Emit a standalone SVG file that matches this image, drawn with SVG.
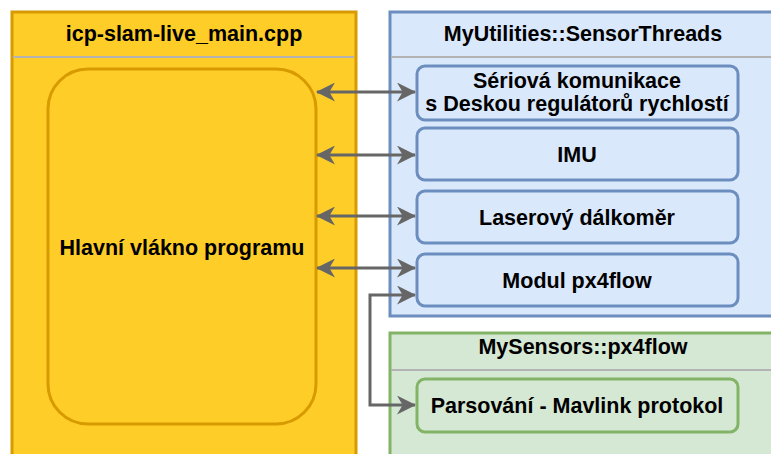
<svg xmlns="http://www.w3.org/2000/svg" width="771" height="454" viewBox="0 0 771 454">
<defs>
<style>
text{font-family:"Liberation Sans",Arial,sans-serif;font-weight:bold;font-size:21.5px;text-anchor:middle;fill:#000}
.y{fill:#ffcd28;stroke:#d79b00;stroke-width:3}
.b{fill:#dae8fc;stroke:#6c8ebf;stroke-width:3}
.g{fill:#d5e8d4;stroke:#82b366;stroke-width:3}
.sep{stroke:#b3b3b3;stroke-width:2;fill:none}
.c{fill:none;stroke:#666;stroke-width:3}
</style>
<marker id="a" viewBox="0 0 10 10" refX="9.5" refY="5" markerWidth="19" markerHeight="19" markerUnits="userSpaceOnUse" orient="auto-start-reverse">
<path d="M0,0 L10,5 L0,10 L3,5 Z" fill="#666"/>
</marker>
</defs>
<g id="main">
<rect class="y" x="12" y="12" width="344" height="460"/>
<line class="sep" x1="13" y1="57" x2="354" y2="57"/>
<text x="184" y="41">icp-slam-live_main.cpp</text>
</g>
<g id="hlavni">
<rect class="y" x="48" y="69" width="268" height="355" rx="40"/>
<text x="182" y="255">Hlavní vlákno programu</text>
</g>
<g id="sensorthreads">
<rect class="b" x="390" y="12" width="400" height="304"/>
<line class="sep" x1="391" y1="57" x2="771" y2="57"/>
<text x="583" y="41">MyUtilities::SensorThreads</text>
</g>
<g id="serial">
<rect class="b" x="417" y="66" width="321" height="54" rx="8"/>
<text x="577" y="88">Sériová komunikace</text>
<text x="577" y="111">s Deskou regulátorů rychlostí</text>
</g>
<g id="imu">
<rect class="b" x="417" y="128" width="321" height="52" rx="8"/>
<text x="577" y="162">IMU</text>
</g>
<g id="laser">
<rect class="b" x="417" y="191" width="321" height="52" rx="8"/>
<text x="577" y="225">Laserový dálkoměr</text>
</g>
<g id="modul">
<rect class="b" x="417" y="254" width="321" height="52" rx="8"/>
<text x="577" y="288">Modul px4flow</text>
</g>
<g id="px4flow">
<rect class="g" x="390" y="333" width="400" height="140"/>
<line class="sep" x1="391" y1="370" x2="771" y2="370"/>
<text x="583" y="354">MySensors::px4flow</text>
</g>
<g id="parsing">
<rect class="g" x="417" y="379" width="321" height="53" rx="8"/>
<text x="577" y="413">Parsování - Mavlink protokol</text>
</g>
<g id="connectors">
<path class="c" d="M317,92 L415,92" marker-start="url(#a)" marker-end="url(#a)"/>
<path class="c" d="M317,155 L415,155" marker-start="url(#a)" marker-end="url(#a)"/>
<path class="c" d="M317,216 L415,216" marker-start="url(#a)" marker-end="url(#a)"/>
<path class="c" d="M317,268 L415,268" marker-start="url(#a)" marker-end="url(#a)"/>
<path class="c" d="M415,295 L370,295 L370,405 L415,405" marker-start="url(#a)" marker-end="url(#a)"/>
</g>
</svg>
